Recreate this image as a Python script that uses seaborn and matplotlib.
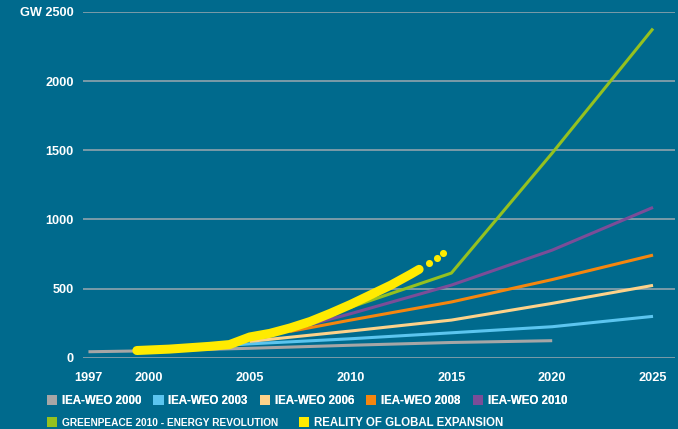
import numpy as np
import pandas as pd
import seaborn as sns
import matplotlib.pyplot as plt
from matplotlib.patches import Patch

# values (GW installed wind capacity)
years_weo2000 = [1997, 2000, 2005, 2010, 2015, 2020]
weo2000 = [43, 50, 68, 90, 110, 123]
years_weo2003 = [2002, 2005, 2010, 2015, 2020, 2025]
weo2003 = [72, 100, 137, 180, 224, 299]
years_weo2006 = [2005, 2010, 2015, 2020, 2025]
weo2006 = [118, 193, 272, 393, 523]
years_weo2008 = [2007, 2010, 2015, 2020, 2025]
weo2008 = [190, 272, 403, 565, 742]
years_weo2010 = [2008, 2010, 2015, 2020, 2025]
weo2010 = [240, 318, 525, 778, 1087]
years_gp2010 = [2005, 2010, 2015, 2020, 2025]
gp2010 = [135, 365, 612, 1480, 2380]
years_reality = [1999.4, 2001, 2002, 2003, 2004, 2005, 2006, 2007, 2008, 2009, 2010, 2011, 2012, 2013, 2013.4]
reality = [52, 62, 72, 82, 95, 150, 176, 215, 262, 321, 385, 455, 525, 605, 639]
years_dots = [2013.9, 2014.3, 2014.6]
reality_dots = [682, 722, 759]

xticks = [1997, 2000, 2005, 2010, 2015, 2020, 2025]
yticks = [0, 500, 1000, 1500, 2000, 2500]
ylabels = ['0', '500', '1000', '1500', '2000', 'GW 2500']

series = [
    ('IEA-WEO 2000', years_weo2000, weo2000, '#a6a6a6'),
    ('IEA-WEO 2003', years_weo2003, weo2003, '#5bc5ef'),
    ('IEA-WEO 2006', years_weo2006, weo2006, '#fdd28a'),
    ('IEA-WEO 2008', years_weo2008, weo2008, '#f5860f'),
    ('IEA-WEO 2010', years_weo2010, weo2010, '#7b4d98'),
    ('GREENPEACE 2010 - ENERGY REVOLUTION', years_gp2010, gp2010, '#95c11f'),
]
yellow = '#ffeb00'
bg = '#006a8d'
grid_c = '#8ea3ad'

plt.rcParams['font.family'] = ['Liberation Sans', 'DejaVu Sans']
plt.rcParams['font.weight'] = 'bold'

fig = plt.figure(figsize=(6.78, 4.29), dpi=100, facecolor=bg)
ax = fig.add_axes([83/678, (429-357.7)/429, (675-83)/678, (357.7-12)/429])
ax.set_facecolor(bg)

for name, xs, ys, col in series:
    df = pd.DataFrame({'year': xs, 'gw': ys})
    sns.lineplot(data=df, x='year', y='gw', color=col, lw=2.2, ax=ax,
                 solid_capstyle='butt', clip_on=False)

df_real = pd.DataFrame({'year': years_reality, 'gw': reality})
sns.lineplot(data=df_real, x='year', y='gw', color=yellow, lw=6.5, ax=ax,
             solid_capstyle='round', solid_joinstyle='round')
sns.scatterplot(x=years_dots, y=reality_dots, color=yellow, s=26, linewidth=0, ax=ax)

ax.set_xlim(1996.73, 2026.09)
ax.set_ylim(0, 2500)
ax.set_yticks(yticks)
ax.set_yticklabels(ylabels)
ax.set_xticks(xticks)
ax.set_xticklabels([str(t) for t in xticks])
ax.tick_params(axis='both', length=0, colors='white', labelsize=9.2)
ax.tick_params(axis='y', pad=6.5)
ax.tick_params(axis='x', pad=10)
for lab in ax.get_xticklabels() + ax.get_yticklabels():
    lab.set_fontweight('bold')
ax.grid(axis='y', color=grid_c, lw=1.2)
ax.grid(axis='x', visible=False)
ax.set_axisbelow(True)
for s in ax.spines.values():
    s.set_visible(False)
ax.set_xlabel('')
ax.set_ylabel('')

# legend, two rows like the reference
h1 = [Patch(facecolor=c, edgecolor='none') for _, _, _, c in series[:5]]
l1 = [n for n, _, _, _ in series[:5]]
leg1 = fig.legend(h1, l1, loc='center left', bbox_to_anchor=(47/678, 1-401/429),
                  ncol=5, frameon=False, handlelength=0.87,
                  handleheight=0.96, handletextpad=0.43, columnspacing=1.04,
                  borderpad=0, borderaxespad=0, labelcolor='white',
                  prop={'weight': 'bold', 'size': 8.3})
h2 = [Patch(facecolor=series[5][3], edgecolor='none'), Patch(facecolor=yellow, edgecolor='none')]
l2 = [series[5][0], 'REALITY OF GLOBAL EXPANSION']
leg2 = fig.legend(h2, l2, loc='center left', bbox_to_anchor=(47/678, 1-423/429),
                  ncol=2, frameon=False, handlelength=0.87,
                  handleheight=0.96, handletextpad=0.43, columnspacing=1.8,
                  borderpad=0, borderaxespad=0, labelcolor='white',
                  prop={'weight': 'bold', 'size': 8.3})
leg2.get_texts()[0].set_fontsize(7.3)
fig.add_artist(leg1)

fig.savefig('out.png', dpi=100, facecolor=bg)
